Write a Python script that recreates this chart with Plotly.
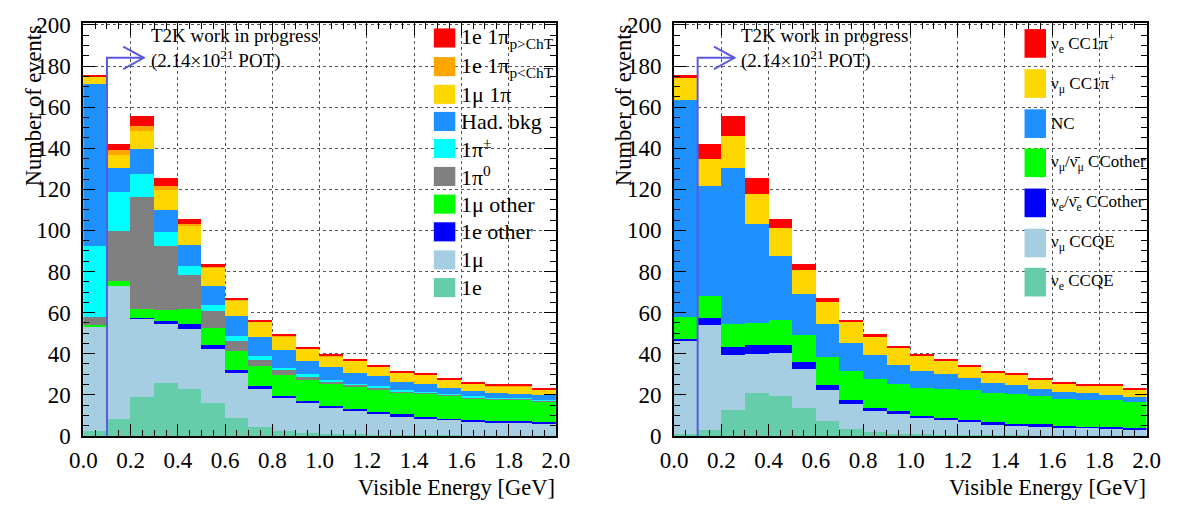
import plotly.graph_objects as go

W, H = 1184, 510

# ---------------- data ----------------
energy_bins = [0.05, 0.15, 0.25, 0.35, 0.45, 0.55, 0.65, 0.75, 0.85, 0.95,
               1.05, 1.15, 1.25, 1.35, 1.45, 1.55, 1.65, 1.75, 1.85, 1.95]
bin_width = 0.1

# Left panel: topology categories (bottom -> top of the stack)
left_names = ["1e", "1μ", "1e other", "1μ other", "1π<sup>0</sup>", "1π<sup>±</sup>",
              "Had. bkg", "1μ 1π", "1e 1π<sub>p&lt;ChT</sub>", "1e 1π<sub>p&gt;ChT</sub>"]
left_1e = [2.5, 8.3, 18.9, 25.8, 23.1, 16.2, 8.8, 4.2, 2.5, 1.7, 1.2, 0.9, 0.5, 0.4, 0.3, 0.3, 0.2, 0.2, 0.2, 0.1]
left_1mu = [51.0, 64.9, 38.1, 28.8, 29.2, 26.3, 22.1, 18.9, 16.4, 14.5, 12.7, 11.4, 10.6, 9.3, 8.2, 7.6, 6.9, 6.6, 6.4, 5.9]
left_1e_other = [0.0, 0.0, 0.5, 1.2, 2.0, 1.7, 1.4, 1.1, 0.8, 0.8, 0.8, 0.7, 0.6, 0.8, 0.8, 0.6, 0.8, 0.6, 0.7, 0.6]
left_1mu_other = [0.7, 2.3, 4.2, 5.7, 7.4, 8.6, 9.1, 10.0, 10.0, 10.2, 10.6, 11.1, 11.1, 10.8, 11.4, 11.3, 10.3, 10.5, 10.6, 10.4]
left_1pi0 = [3.6, 24.5, 54.8, 30.8, 16.8, 8.0, 4.9, 3.0, 2.3, 1.5, 1.2, 0.9, 0.9, 0.5, 0.4, 0.2, 0.5, 0.3, 0.3, 0.3]
left_1pipm = [34.5, 18.8, 10.8, 6.9, 4.1, 2.9, 2.2, 1.6, 1.2, 1.4, 0.7, 0.5, 0.7, 0.4, 0.2, 0.2, 0.6, 0.3, 0.2, 0.3]
left_had = [79.0, 11.6, 12.2, 11.0, 10.6, 9.5, 9.8, 9.4, 8.5, 6.5, 6.3, 5.4, 4.6, 4.3, 4.2, 3.4, 2.8, 2.3, 2.1, 2.2]
left_1mu1pi = [3.5, 6.6, 8.8, 9.6, 9.0, 8.6, 7.5, 7.4, 6.9, 6.0, 5.4, 5.6, 4.7, 4.4, 4.2, 3.8, 3.4, 3.5, 3.7, 2.8]
left_1e1pi_lo = [0.3, 2.0, 2.6, 2.1, 0.9, 0.5, 0.4, 0.2, 0.2, 0.1, 0.1, 0.2, 0.2, 0.2, 0.2, 0.2, 0.2, 0.2, 0.2, 0.2]
left_1e1pi_hi = [0.7, 3.1, 5.0, 3.9, 2.4, 1.5, 1.0, 0.8, 0.6, 0.6, 0.6, 0.5, 0.5, 0.5, 0.5, 0.5, 0.5, 0.5, 0.5, 0.5]
left_colors = ["#66CDAA", "#A6CEE3", "#0000FF", "#00FF00", "#808080", "#00FFFF",
               "#1E90FF", "#FFD700", "#FFA500", "#FF0000"]

# Right panel: interaction modes (bottom -> top of the stack)
right_names = ["ν<sub>e</sub> CCQE", "ν<sub>μ</sub> CCQE", "ν<sub>e</sub>/ν̄<sub>e</sub> CCother",
               "ν<sub>μ</sub>/ν̄<sub>μ</sub> CCother", "NC", "ν<sub>μ</sub> CC1π<sup>+</sup>",
               "ν<sub>e</sub> CC1π<sup>+</sup>"]
right_nue_ccqe = [0.9, 3.1, 12.8, 20.9, 19.7, 13.8, 7.5, 3.5, 2.0, 1.2, 0.9, 0.6, 0.4, 0.3, 0.3, 0.2, 0.2, 0.2, 0.2, 0.1]
right_numu_ccqe = [45.7, 51.1, 26.6, 18.8, 20.5, 18.8, 14.8, 12.3, 10.3, 9.6, 7.9, 7.0, 6.7, 5.4, 4.8, 4.6, 3.8, 3.7, 3.5, 3.3]
right_nue_ccother = [0.8, 3.0, 4.0, 4.6, 4.1, 3.2, 2.6, 1.9, 1.5, 1.2, 0.9, 1.0, 0.9, 0.9, 0.9, 0.9, 0.9, 0.7, 0.8, 0.6]
right_numu_ccother = [10.3, 11.0, 10.9, 10.9, 12.3, 13.3, 13.4, 13.8, 14.0, 13.5, 13.9, 14.5, 14.2, 14.2, 14.4, 13.6, 13.3, 13.1, 13.1, 12.7]
right_nc = [105.9, 53.4, 76.3, 48.0, 30.9, 19.8, 16.3, 13.7, 11.6, 9.2, 7.9, 7.0, 5.9, 4.8, 4.3, 3.8, 3.4, 3.1, 2.5, 2.3]
right_numu_cc1pi = [10.5, 13.1, 15.2, 14.8, 13.6, 12.0, 10.6, 10.3, 9.1, 8.4, 7.5, 6.6, 5.9, 5.5, 5.2, 4.5, 4.1, 3.7, 4.4, 3.8]
right_nue_cc1pi = [1.8, 7.4, 10.1, 7.8, 4.4, 2.9, 2.0, 1.1, 0.9, 0.6, 0.6, 0.5, 0.4, 0.5, 0.7, 0.5, 0.5, 0.5, 0.5, 0.5]
right_colors = ["#66CDAA", "#A6CEE3", "#0000FF", "#00FF00", "#1E90FF", "#FFD700", "#FF0000"]

x_ticks = [0.0, 0.2, 0.4, 0.6, 0.8, 1.0, 1.2, 1.4, 1.6, 1.8, 2.0]
x_ticklabels = ["0.0", "0.2", "0.4", "0.6", "0.8", "1.0", "1.2", "1.4", "1.6", "1.8", "2.0"]
y_ticks = [0, 20, 40, 60, 80, 100, 120, 140, 160, 180, 200]

label_text = "T2K work in progress"
pot_text = "(2.14×10<sup>21</sup> POT)"
cut_energy = 0.1

left_series = [left_1e, left_1mu, left_1e_other, left_1mu_other, left_1pi0, left_1pipm,
               left_had, left_1mu1pi, left_1e1pi_lo, left_1e1pi_hi]
right_series = [right_nue_ccqe, right_numu_ccqe, right_nue_ccother, right_numu_ccother,
                right_nc, right_numu_cc1pi, right_nue_cc1pi]

# ---------------- figure ----------------
FONT = "'Liberation Serif', 'DejaVu Serif', serif"
fig = go.Figure()

for name, vals, col in zip(left_names, left_series, left_colors):
    fig.add_trace(go.Bar(x=energy_bins, y=vals, width=bin_width, name=name,
                         marker=dict(color=col, line=dict(width=0)),
                         xaxis="x", yaxis="y", showlegend=False))
for name, vals, col in zip(right_names, right_series, right_colors):
    fig.add_trace(go.Bar(x=energy_bins, y=vals, width=bin_width, name=name,
                         marker=dict(color=col, line=dict(width=0)),
                         xaxis="x2", yaxis="y2", showlegend=False))

def px(x):
    return x / W

def py(y):
    return 1 - y / H

ydom = [py(446), py(13.5)]
panels = [(71, 555), (676, 1160)]

axis_common = dict(
    showline=True, linecolor="black", linewidth=2, mirror="allticks",
    ticks="inside", ticklen=12, tickwidth=1, tickcolor="black",
    showgrid=True, gridcolor="#555555", gridwidth=1, griddash="dot",
    zeroline=False,
    tickfont=dict(family=FONT, size=23, color="black"),
)

for i, (x0, x1) in enumerate(panels):
    sx = "" if i == 0 else "2"
    fig.update_layout(**{
        "xaxis" + sx: dict(
            domain=[px(x0), px(x1)], range=[0, 2.0], anchor="y" + sx,
            tickvals=x_ticks, ticktext=x_ticklabels, ticklabelstandoff=3,
            minor=dict(dtick=0.05, tick0=0, ticks="inside", ticklen=6, tickcolor="black", showgrid=False),
            **axis_common),
        "yaxis" + sx: dict(
            domain=ydom, range=[0, 201], anchor="x" + sx,
            tickvals=y_ticks, ticklabelstandoff=6,
            minor=dict(dtick=5, tick0=0, ticks="inside", ticklen=6, tickcolor="black", showgrid=False),
            **axis_common),
    })

annotations = []
shapes = []
for i, (x0, x1) in enumerate(panels):
    sx = "" if i == 0 else "2"
    # axis titles
    annotations.append(dict(text="Visible Energy [GeV]", x=px(x1), y=py(500), xref="paper", yref="paper",
                            xanchor="right", yanchor="middle", showarrow=False, borderpad=0,
                            font=dict(family=FONT, size=22.5, color="black")))
    annotations.append(dict(text="Number of events", x=px(x0 - 51), y=py(15), xref="paper", yref="paper",
                            xanchor="center", yanchor="top", textangle=-90, showarrow=False, borderpad=0,
                            font=dict(family=FONT, size=22.5, color="black")))
    # T2K label
    annotations.append(dict(text=label_text, x=px(x0 + 67), y=py(27), xref="paper", yref="paper",
                            xanchor="left", yanchor="middle", showarrow=False,
                            font=dict(family=FONT, size=19, color="black")))
    annotations.append(dict(text=pot_text, x=px(x0 + 67), y=py(52), xref="paper", yref="paper",
                            xanchor="left", yanchor="middle", showarrow=False,
                            font=dict(family=FONT, size=19, color="black")))
    # cut arrow
    shapes.append(dict(type="path", xref="x" + sx, yref="y" + sx,
                       path=f"M {cut_energy},0 L {cut_energy},184 L 0.256,184",
                       line=dict(color="#5a5ade", width=2)))
    shapes.append(dict(type="path", xref="x" + sx, yref="y" + sx,
                       path="M 0.169,189.5 L 0.256,184 L 0.169,178.5",
                       line=dict(color="#5a5ade", width=2)))

# manual legends
left_rows = [29.3, 59.3, 88.3, 116.7, 145, 174.3, 203.3, 232.3, 261.7, 290.7]
for k, row in enumerate(left_rows):
    idx = len(left_names) - 1 - k
    shapes.append(dict(type="rect", xref="paper", yref="paper",
                       x0=px(430), x1=px(452), y0=py(row + 10), y1=py(row - 10),
                       fillcolor=left_colors[idx], line=dict(width=0)))
    annotations.append(dict(text=left_names[idx], x=px(456), y=py(row), xref="paper", yref="paper",
                            xanchor="left", yanchor="middle", showarrow=False,
                            font=dict(family=FONT, size=22, color="black")))

right_rows = [35, 77, 119, 160, 202, 244, 285]
for k, row in enumerate(right_rows):
    idx = len(right_names) - 1 - k
    shapes.append(dict(type="rect", xref="paper", yref="paper",
                       x0=px(1035), x1=px(1057), y0=py(row + 15), y1=py(row - 15),
                       fillcolor=right_colors[idx], line=dict(width=0)))
    annotations.append(dict(text=right_names[idx], x=px(1060), y=py(row), xref="paper", yref="paper",
                            xanchor="left", yanchor="middle", showarrow=False,
                            font=dict(family=FONT, size=17, color="black")))

fig.update_layout(
    width=W, height=H, autosize=False,
    margin=dict(l=0, r=0, t=0, b=0),
    barmode="stack", bargap=0,
    plot_bgcolor="white", paper_bgcolor="white",
    annotations=annotations, shapes=shapes,
    font=dict(family=FONT, color="black"),
)

fig.write_html("out.html",
               post_script="document.body.style.margin='0';document.body.style.padding='0';"
                           "document.body.style.overflow='hidden';")
